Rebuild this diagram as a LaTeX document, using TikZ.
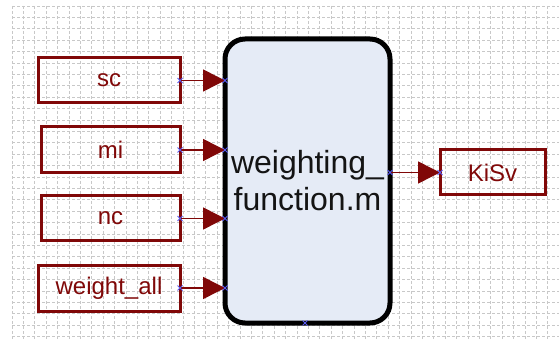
\documentclass[tikz,border=0pt]{standalone}
\usepackage{fontspec}
\setmainfont{Liberation Sans}
\usetikzlibrary{arrows.meta,shapes.misc}
\definecolor{dred}{RGB}{128,8,8}
\definecolor{blockfill}{RGB}{229,235,246}
\definecolor{gridc}{RGB}{200,200,200}
\definecolor{portc}{RGB}{90,90,240}
\begin{document}
\begin{tikzpicture}[x=1pt,y=-1pt,
  inbox/.style={draw=dred,line width=3pt,fill=none,outer sep=0pt,inner sep=0pt,
    text=dred,font=\fontsize{24}{28}\selectfont},
  fblock/.style={draw=black,line width=5pt,fill=blockfill,rounded corners=20pt,
    outer sep=0pt,inner sep=0pt,align=center,text=black!92,
    font=\fontsize{32}{37}\selectfont},
  conn/.style={draw=dred,line width=1.5pt,
    -{Triangle[length=22pt,width=22pt,fill=dred]}},
  xmark/.style={cross out,draw=portc,line width=1pt,minimum size=5pt,inner sep=0pt,outer sep=0pt},
  gridline/.style={draw=gridc,line width=0.7pt,dash pattern=on 3pt off 2pt}
]
\useasboundingbox (0,0) rectangle (559,347);
\fill[white] (0,0) rectangle (559,347);
% grid
\foreach \i in {0,...,48} {\draw[gridline] (12+11.4*\i,6) -- (12+11.4*\i,340);}
\foreach \j in {0,...,29} {\draw[gridline] (12,6+11.4*\j) -- (559,6+11.4*\j);}
% boxes
\node[inbox,minimum width=142pt,minimum height=45pt] (sc) at (109,80.5) {sc};
\node[inbox,minimum width=139pt,minimum height=46pt] (mi) at (110.5,150) {mi};
\node[inbox,minimum width=139pt,minimum height=45pt] (nc) at (110.5,218.5) {nc};
\node[inbox,minimum width=142pt,minimum height=46pt] (wa) at (109,288) {weight\_all};
\node[inbox,minimum width=105pt,minimum height=45pt] (kisv) at (492.5,172.5) {KiSv};
\node[fblock,minimum width=165pt,minimum height=284pt] (blk) at (307.5,181) {weighting\_\\function.m};
% connectors
\draw[conn] (sc.east) -- (sc.east -| blk.west);
\draw[conn] (mi.east) -- (mi.east -| blk.west);
\draw[conn] (nc.east) -- (nc.east -| blk.west);
\draw[conn] (wa.east) -- (wa.east -| blk.west);
\draw[conn] (kisv.west -| blk.east) -- (kisv.west);
% port markers
\node[xmark] (p1) at (sc.east) {};
\node[xmark] (p2) at (sc.east -| blk.west) {};
\node[xmark] (p3) at (mi.east) {};
\node[xmark] (p4) at (mi.east -| blk.west) {};
\node[xmark] (p5) at (nc.east) {};
\node[xmark] (p6) at (nc.east -| blk.west) {};
\node[xmark] (p7) at (wa.east) {};
\node[xmark] (p8) at (wa.east -| blk.west) {};
\node[xmark] (p9) at (kisv.west -| blk.east) {};
\node[xmark] (p10) at (kisv.west) {};
\node[xmark] (p11) at (305,323) {};
\end{tikzpicture}
\end{document}
